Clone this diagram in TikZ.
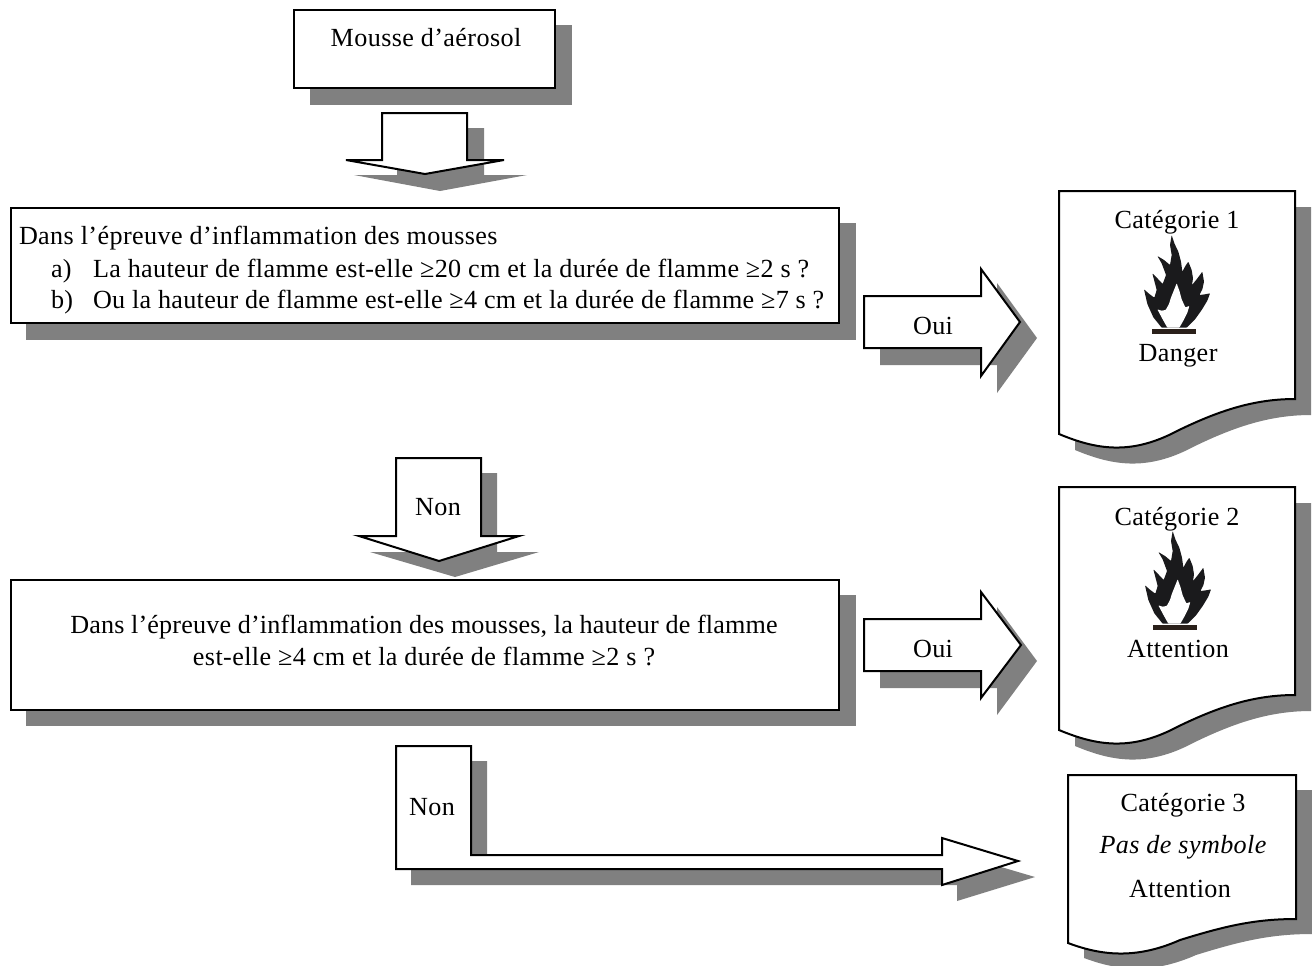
\documentclass[tikz,border=0pt]{standalone}
\usepackage{fontspec}
\setmainfont[LetterSpace=1.5]{Liberation Serif}
\tikzset{
  x=0.75pt,y=-0.75pt,
  shade/.style={fill=shadowgray,draw=none},
  outline/.style={draw=black,fill=white,line width=1.5pt,line join=miter,miter limit=10},
  boxnode/.style={outline,inner sep=0,outer sep=0,anchor=north west},
  lab/.style={anchor=base,inner sep=0,outer sep=0,font=\fontsize{19.6}{23}\selectfont},
  labl/.style={lab,anchor=base west},
}
\definecolor{shadowgray}{HTML}{808080}
\definecolor{flameblack}{HTML}{1A1A1C}
\definecolor{barbrown}{HTML}{2A201A}
\newcommand{\flamesym}[2]{%
 \begin{scope}[shift={(#1,#2)},x=0.25pt,y=-0.25pt]
  \fill[flameblack,rounded corners=0.5pt] (155,15) -- (163,40) -- (175,65) -- (183,95) -- (187,125) -- (196,108) -- (205,95) -- (215,120) -- (219,145) -- (216,165) -- (230,148) -- (247,125) -- (252,155) -- (247,178) -- (238,195) -- (255,193) -- (270,190) -- (262,212) -- (245,240) -- (225,268) -- (200,293) -- (125,293) -- (100,262) -- (82,222) -- (72,178) -- (88,192) -- (103,203) -- (110,180) -- (97,130) -- (115,148) -- (128,162) -- (138,135) -- (125,100) -- (112,78) -- (132,90) -- (150,105) -- (155,75) -- (150,45) -- cycle;
  \fill[white,rounded corners=0.5pt] (170,160) -- (178,182) -- (185,208) -- (196,232) -- (208,228) -- (202,248) -- (190,272) -- (178,293) -- (142,293) -- (128,268) -- (112,238) -- (124,242) -- (137,240) -- (147,222) -- (152,205) -- (160,185) -- cycle;
  \fill[barbrown] (97,296) rectangle (228,312);
 \end{scope}}
\newcommand{\docone}{(1059,191) -- (1295,191) -- (1295,399) .. controls (1255,399) and (1220,410) .. (1177,431) .. controls (1130,456) and (1095,449) .. (1059,434) -- cycle}
\newcommand{\docthree}{(1068,775) -- (1296,775) -- (1296,919) .. controls (1255,919) and (1225,926) .. (1180,940) .. controls (1135,960) and (1100,955) .. (1068,943) -- cycle}
\begin{document}
\begin{tikzpicture}
\useasboundingbox (0,0) rectangle (1312,965);
% box 1
\fill[shade] (310,25) rectangle (572,105);
\node[boxnode,minimum width=195.75pt,minimum height=58.5pt] (b1) at (294,10) {};
\node[lab] (t1) at (426,46) {Mousse d'aérosol};
% arrow 1
\fill[shade] (397,128) -- (484,128) -- (484,175) -- (527,175) -- (440,191) -- (354,175) -- (397,175) -- cycle;
\draw[outline] (382,113) -- (467,113) -- (467,160) -- (504,160) -- (425,174) -- (346,160) -- (382,160) -- cycle;
% box 2
\fill[shade] (26,223) rectangle (856,340);
\node[boxnode,minimum width=621pt,minimum height=86.25pt] (b2) at (11,208) {};
\node[labl] (t2a) at (19,244) {Dans l'épreuve d'inflammation des mousses};
\node[labl] (t2b) at (51,277) {a)};
\node[labl] (t2c) at (93,277) {\addfontfeature{LetterSpace=1.3}La hauteur de flamme est-elle ≥20 cm et la durée de flamme ≥2 s ?};
\node[labl] (t2d) at (51,308) {b)};
\node[labl] (t2e) at (93,308) {\addfontfeature{LetterSpace=1.15}Ou la hauteur de flamme est-elle ≥4 cm et la durée de flamme ≥7 s ?};
% oui 1
\fill[shade] (880,312) -- (997,312) -- (997,283) -- (1037,338) -- (997,393) -- (997,365) -- (880,365) -- cycle;
\draw[outline] (864,296) -- (981,296) -- (981,269) -- (1020,322) -- (981,376) -- (981,348) -- (864,348) -- cycle;
\node[lab] (o1) at (933,334) {Oui};
% cat 1
\fill[shade,shift={(16,16)}] \docone;
\draw[outline] \docone;
\node[lab] (c1) at (1177,228) {Catégorie 1};
\flamesym{1120}{230}
\node[lab] (d1) at (1178,361) {Danger};
% non 1
\fill[shade] (412,473) -- (497,473) -- (497,552) -- (539,552) -- (455,577) -- (370,552) -- (412,552) -- cycle;
\draw[outline] (396,458) -- (481,458) -- (481,536) -- (519,536) -- (439,561) -- (359,536) -- (396,536) -- cycle;
\node[lab] (n1) at (438,515) {Non};
% box 3
\fill[shade] (26,595) rectangle (856,726);
\node[boxnode,minimum width=621pt,minimum height=97.5pt] (b3) at (11,580) {};
\node[lab] (t3a) at (424,633) {\addfontfeature{LetterSpace=0.6}Dans l'épreuve d'inflammation des mousses, la hauteur de flamme};
\node[lab] (t3b) at (424,665) {est-elle ≥4 cm et la durée de flamme ≥2 s ?};
% oui 2
\fill[shade] (880,635) -- (997,635) -- (997,607) -- (1037,661) -- (997,715) -- (997,688) -- (880,688) -- cycle;
\draw[outline] (864,619) -- (981,619) -- (981,592) -- (1021,645) -- (981,698) -- (981,671) -- (864,671) -- cycle;
\node[lab] (o2) at (933,657) {Oui};
% cat 2
\begin{scope}[shift={(0,296)}]
\fill[shade,shift={(16,16)}] \docone;
\draw[outline] \docone;
\end{scope}
\node[lab] (c2) at (1177,525) {Catégorie 2};
\flamesym{1121}{526}
\node[lab] (d2) at (1178,657) {Attention};
% non 2
\fill[shade] (411,761) -- (487,761) -- (487,870) -- (957,870) -- (957,854) -- (1035,877) -- (957,901) -- (957,885) -- (411,885) -- cycle;
\draw[outline] (396,746) -- (471,746) -- (471,855) -- (942,855) -- (942,838) -- (1018,861) -- (942,885) -- (942,869) -- (396,869) -- cycle;
\node[lab] (n2) at (432,815) {Non};
% cat 3
\fill[shade,shift={(16,15)}] \docthree;
\draw[outline] \docthree;
\node[lab] (c3) at (1183,811) {Catégorie 3};
\node[lab] (s3) at (1183,853) {\itshape Pas de symbole};
\node[lab] (d3) at (1180,897) {Attention};
\end{tikzpicture}
\end{document}
